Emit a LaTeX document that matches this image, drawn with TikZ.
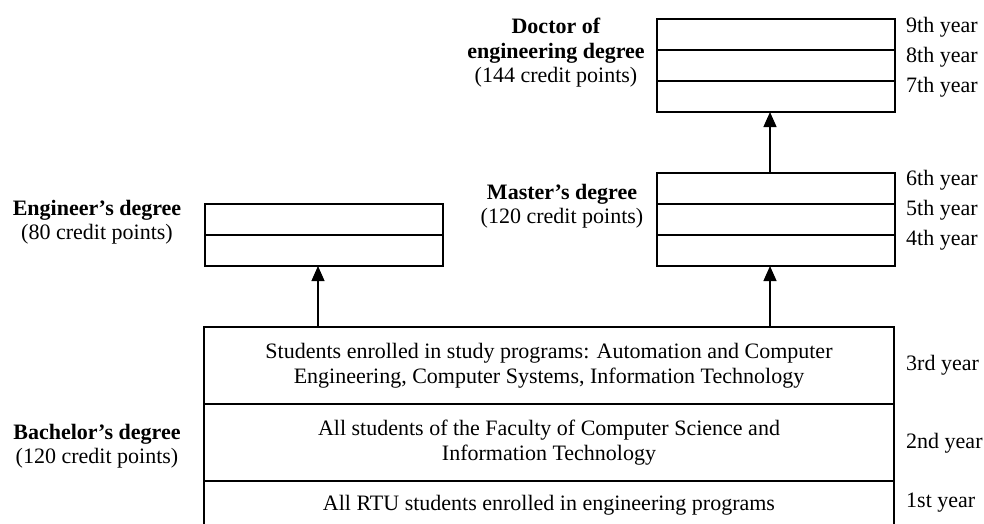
\documentclass[tikz,border=0pt]{standalone}
\usepackage{fontspec}
\setmainfont{Liberation Serif}
\usetikzlibrary{arrows.meta,positioning,calc}

\tikzset{
  row/.style={draw, line width=1.2pt, minimum width=238pt, minimum height=31pt, inner sep=0pt, outer sep=0pt},
  bigrow/.style={row, minimum width=690pt, minimum height=77pt, align=center},
  degree/.style={align=center, inner sep=0pt},
  yearlbl/.style={anchor=west, inner sep=0pt},
  arr/.style={line width=1.2pt, -{Triangle[length=15pt,width=13pt]}},
}

\begin{document}
\begin{tikzpicture}[x=1pt,y=-1pt,font=\fontsize{22}{24.5}\selectfont]
\useasboundingbox (0,0) rectangle (984,523);

% doctor
\node[row, anchor=north west] (doc9) at (657,19) {};
\node[row, below=0pt of doc9] (doc8) {};
\node[row, below=0pt of doc8] (doc7) {};

% master
\node[row, anchor=north west] (mas6) at (657,173) {};
\node[row, below=0pt of mas6] (mas5) {};
\node[row, below=0pt of mas5] (mas4) {};

% engineer
\node[row, anchor=north west] (eng1) at (205,204) {};
\node[row, below=0pt of eng1] (eng2) {};

% bachelor
\node[bigrow, anchor=north west] (bach3) at (204,327)
  {Students enrolled in study programs: Automation and Computer\\Engineering, Computer Systems, Information Technology};
\node[bigrow, below=0pt of bach3] (bach2)
  {All students of the Faculty of Computer Science and\\Information Technology};
\node[bigrow, minimum height=48pt, below=0pt of bach2] (bach1)
  {All RTU students enrolled in engineering programs};

% degree names
\node[degree] (ldoc) at (556,53) {\textbf{Doctor of}\\\textbf{engineering degree}\\(144 credit points)};
\node[degree] (lmas) at (562,206) {\textbf{Master's degree}\\(120 credit points)};
\node[degree] (leng) at (97,222) {\textbf{Engineer's degree}\\(80 credit points)};
\node[degree] (lbach) at (97,446) {\textbf{Bachelor's degree}\\(120 credit points)};

% years
\node[yearlbl] (y9) at (906,27) {9th year};
\node[yearlbl] (y8) at (906,57) {8th year};
\node[yearlbl] (y7) at (906,87) {7th year};
\node[yearlbl] (y6) at (906,180) {6th year};
\node[yearlbl] (y5) at (906,210) {5th year};
\node[yearlbl] (y4) at (906,240) {4th year};
\node[yearlbl] (y3) at (906,365) {3rd year};
\node[yearlbl] (y2) at (906,443) {2nd year};
\node[yearlbl] (y1) at (906,503) {1st year};

% arrows
\draw[arr] ($(eng2.south |- bach3.north)+(-6,0)$) -- ($(eng2.south)+(-6,0)$);
\draw[arr] ($(mas4.south |- bach3.north)+(-6,0)$) -- ($(mas4.south)+(-6,0)$);
\draw[arr] ($(mas6.north)+(-6,0)$) -- ($(doc7.south)+(-6,0)$);
\end{tikzpicture}
\end{document}
